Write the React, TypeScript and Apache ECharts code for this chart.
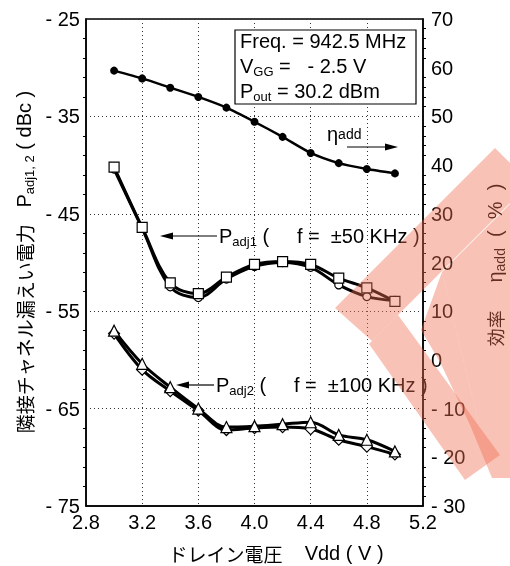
import React, { useEffect, useRef } from "react";
import * as echarts from "echarts";

const vdd = [3.0, 3.2, 3.4, 3.6, 3.8, 4.0, 4.2, 4.4, 4.6, 4.8, 5.0];
const etaAdd = [59.4, 57.8, 55.9, 54.0, 51.8, 48.9, 45.8, 42.5, 40.4, 39.2, 38.3];
const padj1Square = [-40.2, -46.4, -52.1, -53.2, -51.5, -50.2, -49.9, -50.2, -51.6, -52.6, -54.0];
const padj1Circle = [-40.4, -46.5, -52.5, -53.6, -51.7, -50.4, -50.0, -50.5, -52.3, -53.5, -53.9];
const padj2Triangle = [-57.0, -60.4, -62.8, -65.0, -66.9, -66.8, -66.6, -66.4, -67.7, -68.2, -69.4];
const padj2Diamond = [-57.3, -61.0, -63.2, -65.2, -67.2, -67.0, -66.9, -67.1, -68.2, -68.9, -69.7];

const xTicks = { min: 2.8, max: 5.2, interval: 0.4 };
const leftTicks = { min: -75, max: -25, interval: 10 };
const rightTicks = { min: -30, max: 70, interval: 10 };

const FONT = "'Liberation Sans', Arial, sans-serif";
const JFONT = "'Noto Sans CJK JP', sans-serif";

const pairs = (ys: number[]) => vdd.map((x, i) => [x, ys[i]]);
const signed = (v: number) => (v < 0 ? "- " + Math.abs(v) : String(v));

export default function App() {
  const ref = useRef<HTMLDivElement>(null);
  useEffect(() => {
    if (!ref.current) return;
    const chart = echarts.init(ref.current, undefined, { renderer: "svg" });
    const dotted = { color: "#333", width: 1, type: [1, 3] as any };
    const markerSeries = (name: string, ys: number[], symbol: string, size: number, z: number) => ({
      name,
      type: "line",
      data: pairs(ys),
      smooth: 0.35,
      symbol,
      symbolSize: size,
      showAllSymbol: true,
      lineStyle: { color: "#000", width: 3 },
      itemStyle: { color: "#fff", borderColor: "#000", borderWidth: 1.2 },
      z,
    });
    const rich = {
      p: { fontSize: 20, fontFamily: FONT, color: "#000", lineHeight: 24 },
      s: { fontSize: 13, fontFamily: FONT, color: "#000", verticalAlign: "bottom", lineHeight: 24 },
      j: { fontSize: 19, fontFamily: JFONT, color: "#000", lineHeight: 24 },
    };
    const wmStyle = { fill: "rgba(240,110,80,0.42)" };
    const wmPolys = [
      [[335, 308], [495, 148], [530, 183], [372, 341]],
      [[369, 344], [465, 480], [500, 455], [398, 315]],
      [[442, 272], [512, 202], [512, 478], [492, 478]],
      [[442, 272], [492, 478], [470, 425], [440, 362], [421, 330]],
    ];
    chart.setOption({
      animation: false,
      grid: {
        left: 86,
        right: 87,
        top: 19,
        bottom: 60,
        show: true,
        borderColor: "#000",
        borderWidth: 1.5,
        backgroundColor: "transparent",
      },
      xAxis: {
        type: "value",
        ...xTicks,
        axisLine: { onZero: false, lineStyle: { color: "#000", width: 1.5 } },
        axisTick: { show: false },
        axisLabel: {
          color: "#000",
          fontSize: 20,
          fontFamily: FONT,
          margin: 6,
          formatter: (v: number) => v.toFixed(1),
        },
        splitLine: { show: true, lineStyle: dotted },
      },
      yAxis: [
        {
          type: "value",
          ...leftTicks,
          position: "left",
          axisLine: { show: true, lineStyle: { color: "#000", width: 1.5 } },
          axisTick: { show: false },
          minorTick: { show: true, splitNumber: 5, length: 3, lineStyle: { color: "#000" } },
          axisLabel: {
            color: "#000",
            fontSize: 20,
            fontFamily: FONT,
            margin: 6,
            formatter: signed,
          },
          splitLine: { show: true, lineStyle: dotted },
        },
        {
          type: "value",
          ...rightTicks,
          position: "right",
          axisLine: { show: true, lineStyle: { color: "#000", width: 1.5 } },
          axisTick: { show: false },
          minorTick: { show: true, splitNumber: 5, length: 3, lineStyle: { color: "#000" } },
          axisLabel: {
            color: "#000",
            fontSize: 20,
            fontFamily: FONT,
            margin: 8,
            formatter: signed,
          },
          splitLine: { show: false },
        },
      ],
      series: [
        {
          name: "eta",
          type: "line",
          yAxisIndex: 1,
          data: pairs(etaAdd),
          smooth: 0.2,
          symbol: "circle",
          symbolSize: 8,
          lineStyle: { color: "#000", width: 2.5 },
          itemStyle: { color: "#000" },
          z: 5,
        },
        markerSeries("padj1c", padj1Circle, "circle", 8, 3),
        markerSeries("padj1s", padj1Square, "rect", 10, 4),
        markerSeries("padj2d", padj2Diamond, "diamond", 11, 3),
        markerSeries("padj2t", padj2Triangle, "triangle", 11, 4),
      ],
      graphic: [
        {
          type: "rect",
          shape: { x: 235, y: 30, width: 181, height: 74 },
          style: { fill: "#fff", stroke: "#000", lineWidth: 1.2 },
          z: 10,
        },
        {
          type: "text",
          x: 240,
          y: 41,
          style: { text: "{p|Freq. = 942.5 MHz}", rich, verticalAlign: "middle" },
          z: 11,
        },
        {
          type: "text",
          x: 240,
          y: 66,
          style: { text: "{p|V}{s|GG}{p| =   - 2.5 V}", rich, verticalAlign: "middle" },
          z: 11,
        },
        {
          type: "text",
          x: 240,
          y: 91,
          style: { text: "{p|P}{s|out}{p| = 30.2 dBm}", rich, verticalAlign: "middle" },
          z: 11,
        },
        {
          type: "text",
          x: 327,
          y: 134,
          style: {
            text: "{p|η}{s|add}",
            rich: { p: { ...rich.p, fontSize: 20 }, s: { ...rich.s, verticalAlign: "middle", fontSize: 14 } },
            verticalAlign: "middle",
          },
          z: 11,
        },
        {
          type: "line",
          shape: { x1: 347, y1: 147, x2: 390, y2: 147 },
          style: { stroke: "#000", lineWidth: 1.2 },
          z: 11,
        },
        {
          type: "polygon",
          shape: { points: [[398, 147], [385, 143.5], [385, 150.5]] },
          style: { fill: "#000" },
          z: 11,
        },
        {
          type: "text",
          x: 219,
          y: 236,
          style: { text: "{p|P}{s|adj1}{p| (     f =  ±50 KHz )}", rich, verticalAlign: "middle" },
          z: 11,
        },
        {
          type: "line",
          shape: { x1: 168, y1: 236, x2: 217, y2: 236 },
          style: { stroke: "#000", lineWidth: 1.2 },
          z: 11,
        },
        {
          type: "polygon",
          shape: { points: [[160, 236], [173, 232.5], [173, 239.5]] },
          style: { fill: "#000" },
          z: 11,
        },
        {
          type: "text",
          x: 216,
          y: 385,
          style: { text: "{p|P}{s|adj2}{p| (     f =  ±100 KHz )}", rich, verticalAlign: "middle" },
          z: 11,
        },
        {
          type: "line",
          shape: { x1: 184, y1: 385, x2: 214, y2: 385 },
          style: { stroke: "#000", lineWidth: 1.2 },
          z: 11,
        },
        {
          type: "polygon",
          shape: { points: [[176, 385], [189, 381.5], [189, 388.5]] },
          style: { fill: "#000" },
          z: 11,
        },
        {
          type: "text",
          x: 24,
          y: 262,
          rotation: Math.PI / 2,
          style: {
            text: "{j|隣接チャネル漏えい電力}{p|   P}{s|adj1, 2}{p| ( dBc )}",
            rich,
            align: "center",
            verticalAlign: "middle",
          },
          z: 11,
        },
        {
          type: "text",
          x: 495,
          y: 265,
          rotation: Math.PI / 2,
          style: {
            text: "{j|効率}{p|     η}{s|add}{p|  (  %  )}",
            rich: { ...rich, j: { ...rich.j, fontSize: 18 }, s: { ...rich.s, fontSize: 14 } },
            align: "center",
            verticalAlign: "middle",
          },
          z: 11,
        },
        {
          type: "text",
          x: 276,
          y: 553,
          style: {
            text: "{j|ドレイン電圧}{p|    Vdd ( V )}",
            rich,
            align: "center",
            verticalAlign: "middle",
          },
          z: 11,
        },
        ...wmPolys.map((pts) => ({
          type: "polygon",
          shape: { points: pts },
          style: wmStyle,
          z: 50,
          silent: true,
        })),
      ],
    });
    return () => chart.dispose();
  }, []);
  return (
    <div
      ref={ref}
      style={{ position: "fixed", left: 0, top: 0, width: 510, height: 566 }}
    />
  );
}
